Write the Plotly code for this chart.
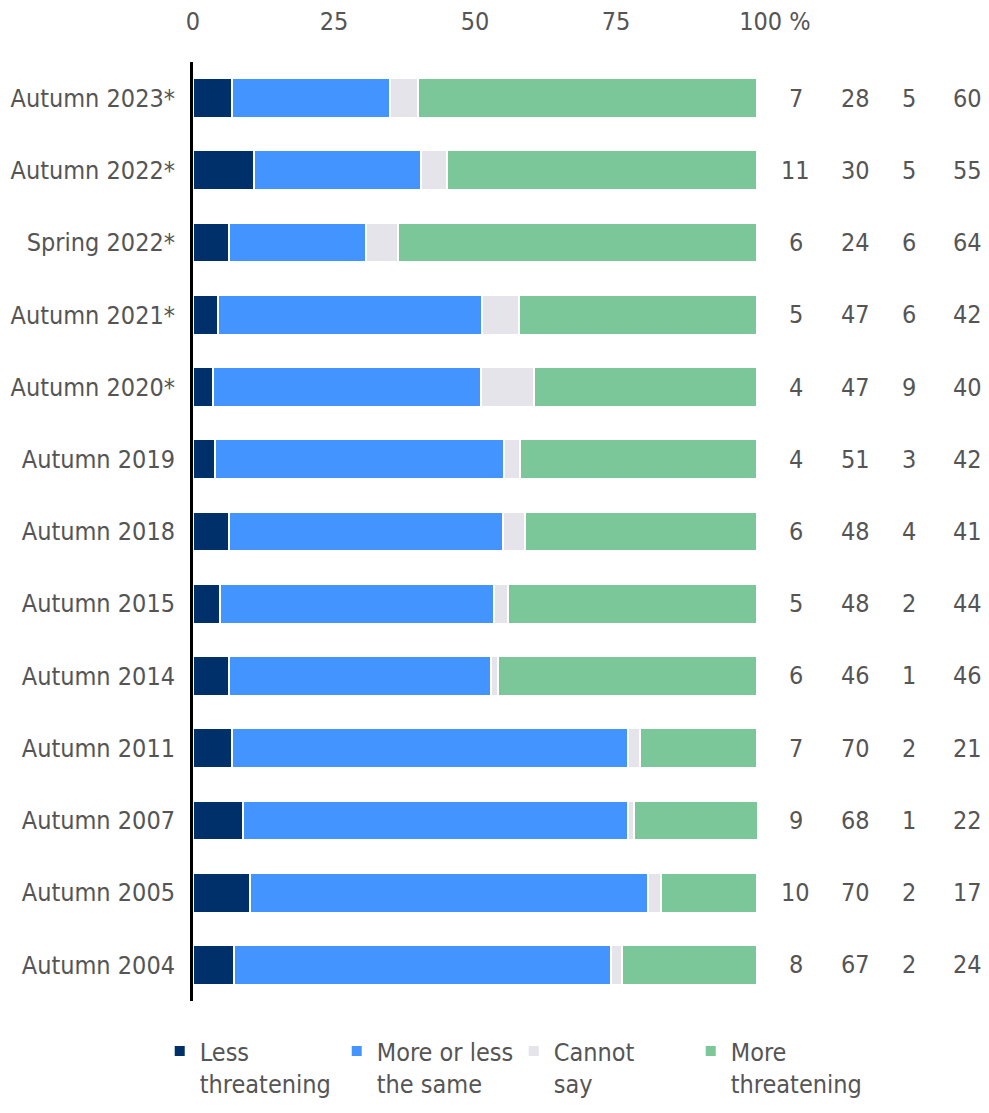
import plotly.graph_objects as go

categories = ["Autumn 2023*", "Autumn 2022*", "Spring 2022*", "Autumn 2021*", "Autumn 2020*",
              "Autumn 2019", "Autumn 2018", "Autumn 2015", "Autumn 2014", "Autumn 2011",
              "Autumn 2007", "Autumn 2005", "Autumn 2004"]

series_names = ["Less<br>threatening", "More or less<br>the same", "Cannot<br>say", "More<br>threatening"]

# bar lengths (unrounded)
bar_less = [7.0, 10.9, 6.3, 4.4, 3.6, 3.9, 6.3, 4.8, 6.3, 6.9, 8.9, 10.1, 7.3]
bar_same = [27.9, 29.5, 24.3, 46.9, 47.5, 51.3, 48.6, 48.6, 46.5, 70.3, 68.3, 70.5, 66.8]
bar_cannot = [5.0, 4.6, 5.8, 6.5, 9.3, 2.7, 4.0, 2.4, 1.3, 2.0, 1.0, 2.3, 2.0]
bar_more = [60.1, 55.0, 63.6, 42.2, 39.6, 42.1, 41.1, 44.2, 45.9, 20.8, 21.9, 17.1, 23.9]

# printed (rounded) values in the right-hand columns
lbl_less = [7, 11, 6, 5, 4, 4, 6, 5, 6, 7, 9, 10, 8]
lbl_same = [28, 30, 24, 47, 47, 51, 48, 48, 46, 70, 68, 70, 67]
lbl_cannot = [5, 5, 6, 6, 9, 3, 4, 2, 1, 2, 1, 2, 2]
lbl_more = [60, 55, 64, 42, 40, 42, 41, 44, 46, 21, 22, 17, 24]

tick_vals = [0, 25, 50, 75, 100]
tick_text = ["0", "25", "50", "75", "     100 %"]

colors = ["#00306a", "#4394ff", "#e6e4eb", "#7bc799"]
FONT = "DejaVu Sans Condensed, Liberation Sans Narrow, sans-serif"
TXT = "#555555"
FS = 25

fig = go.Figure()
for name, vals, col in zip(series_names, [bar_less, bar_same, bar_cannot, bar_more], colors):
    fig.add_trace(go.Bar(
        y=categories, x=vals, name=name, orientation="h",
        marker=dict(color=col, line=dict(color="white", width=2)),
        width=0.55, hoverinfo="skip",
    ))

col_x = [1.069, 1.174, 1.270, 1.374]
for cx, labels in zip(col_x, [lbl_less, lbl_same, lbl_cannot, lbl_more]):
    for cat, v in zip(categories, labels):
        fig.add_annotation(x=cx, xref="paper", y=cat, yref="y", text=str(v),
                           showarrow=False, xanchor="center", yanchor="middle",
                           font=dict(family=FONT, size=FS, color=TXT))

fig.update_layout(
    width=973, height=1097, autosize=False,
    margin=dict(l=185, r=224, t=54, b=104, autoexpand=False),
    barmode="stack", bargap=0.45,
    plot_bgcolor="white", paper_bgcolor="white",
    font=dict(family=FONT, size=FS, color=TXT),
    xaxis=dict(range=[0, 100], side="top", tickvals=tick_vals, ticktext=tick_text,
               showgrid=False, zeroline=False, showline=False, ticks="", automargin=False,
               ticklabelstandoff=26, tickfont=dict(size=FS, color=TXT)),
    yaxis=dict(autorange="reversed", showgrid=False, zeroline=False, showline=True,
               linecolor="black", linewidth=3, ticks="", ticklabelstandoff=10, automargin=False,
               tickfont=dict(size=FS, color=TXT)),
    legend=dict(orientation="h", x=-0.059, xanchor="left", y=-0.029, yanchor="top",
                entrywidth=132, font=dict(size=FS, color=TXT), valign="top",
                traceorder="normal", itemclick=False, itemdoubleclick=False),
    showlegend=True,
)

fig.write_html("out.html")
